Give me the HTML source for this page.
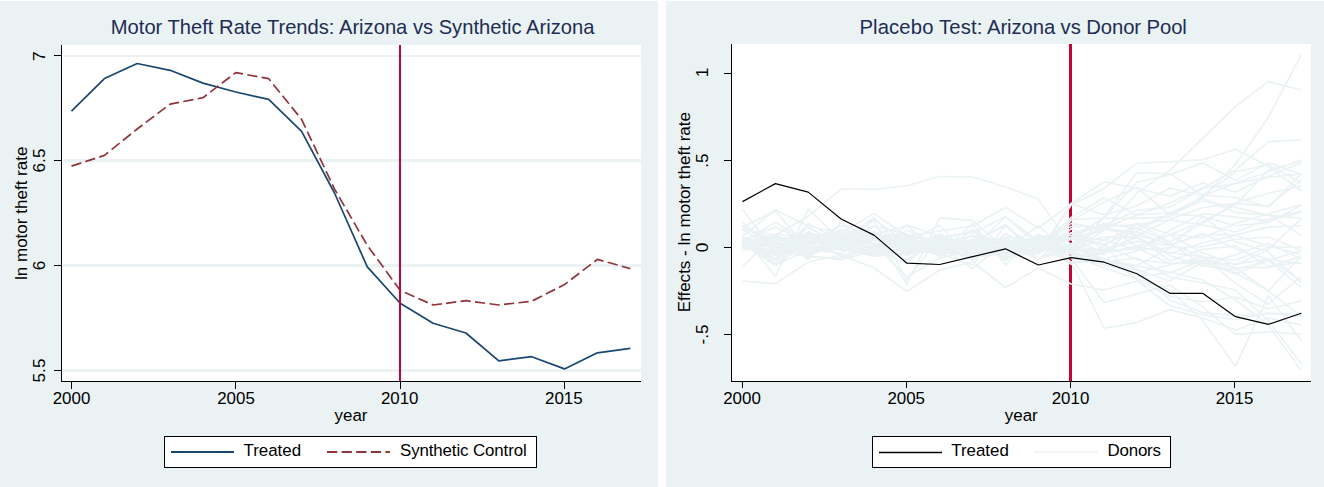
<!DOCTYPE html>
<html lang="en"><head><meta charset="utf-8"><title>Synthetic control: Arizona motor theft</title>
<style>
html,body{margin:0;padding:0;background:#fff;}
body{width:1324px;height:487px;overflow:hidden;}
svg{display:block;}
text{font-family:'Liberation Sans', sans-serif;fill:#000;}
.lab{font-size:16.9px;}
.ttl{font-size:20.2px;fill:#1e2d53;}
</style></head><body>
<svg width="1324" height="487" viewBox="0 0 1324 487">
<rect x="0" y="0" width="1324" height="487" fill="#fff"/>
<rect x="0" y="1" width="658" height="486" fill="#eaf2f3"/>
<rect x="666" y="1" width="658" height="486" fill="#eaf2f3"/>

<g id="left">
<rect x="62" y="45" width="579" height="336" fill="#fff"/>
<rect x="63" y="55" width="578" height="2" fill="#eaf2f3"/>
<rect x="63" y="159" width="578" height="3" fill="#eaf2f3"/>
<rect x="63" y="264" width="578" height="3" fill="#eaf2f3"/>
<rect x="63" y="369" width="578" height="3" fill="#eaf2f3"/>
<polyline fill="none" stroke="#1a476f" stroke-width="1.7" stroke-linejoin="round" points="71.5,111.1 104.4,78.6 137.2,63.5 170.1,70.3 203.0,83.1 235.8,92.0 268.7,99.4 301.6,131.4 334.5,193.0 367.3,266.9 400.2,303.2 433.1,323.3 465.9,333.0 498.8,360.9 531.7,356.7 564.5,368.9 597.4,352.8 630.3,348.4"/>
<polyline fill="none" stroke="#90353b" stroke-width="1.7" stroke-linejoin="round" stroke-dasharray="10.3 4.3" points="71.5,166.1 104.4,155.4 137.2,129.0 170.1,104.1 203.0,97.7 235.8,72.6 268.7,78.7 301.6,119.4 334.5,189.0 367.3,245.4 400.2,290.4 433.1,305.0 465.9,300.7 498.8,305.0 531.7,301.2 564.5,284.6 597.4,259.4 630.3,268.6"/>
<rect x="399" y="45" width="2" height="336" fill="#c10534"/>
<g fill="#000">
<rect x="61" y="45" width="1" height="337"/>
<rect x="61" y="381" width="580" height="1"/>
<rect x="54" y="55" width="7" height="1"/>
<rect x="54" y="160" width="7" height="1"/>
<rect x="54" y="265" width="7" height="1"/>
<rect x="54" y="370" width="7" height="1"/>
<rect x="71" y="382" width="1" height="7"/>
<rect x="235" y="382" width="1" height="7"/>
<rect x="400" y="382" width="1" height="7"/>
<rect x="564" y="382" width="1" height="7"/>
</g>
<text class="lab" x="71.5" y="404" text-anchor="middle">2000</text>
<text class="lab" x="236.0" y="404" text-anchor="middle">2005</text>
<text class="lab" x="399.7" y="404" text-anchor="middle">2010</text>
<text class="lab" x="563.8" y="404" text-anchor="middle">2015</text>
<text class="lab" style="font-size:17.2px" transform="translate(45.0,56.3) rotate(-90)" text-anchor="middle">7</text>
<text class="lab" style="font-size:17.2px" transform="translate(45.0,160.5) rotate(-90)" text-anchor="middle">6.5</text>
<text class="lab" style="font-size:17.2px" transform="translate(45.0,265.5) rotate(-90)" text-anchor="middle">6</text>
<text class="lab" style="font-size:17.2px" transform="translate(45.0,370.5) rotate(-90)" text-anchor="middle">5.5</text>
<text class="lab" style="font-size:17.05px" transform="translate(27.3,213.3) rotate(-90)" text-anchor="middle">ln motor theft rate</text>
<text class="lab" x="351.0" y="420.5" text-anchor="middle">year</text>
<text class="ttl" style="font-size:20.17px" x="352.6" y="33.9" text-anchor="middle">Motor Theft Rate Trends: Arizona vs Synthetic Arizona</text>
<rect x="164.5" y="436.5" width="372" height="31" fill="#fff" stroke="#000" stroke-width="1"/>
<line x1="171" y1="452" x2="234" y2="452" stroke="#1a476f" stroke-width="2"/>
<text class="lab" x="243.5" y="456">Treated</text>
<line x1="327" y1="452" x2="390" y2="452" stroke="#90353b" stroke-width="2" stroke-dasharray="10.3 4.3"/>
<text class="lab" style="letter-spacing:-0.12px" x="400" y="456">Synthetic Control</text>
</g>
<g id="right">
<rect x="732" y="44" width="579" height="337" fill="#fff"/>
<rect x="1069" y="44" width="3" height="337" fill="#c10534"/>
<g fill="none" stroke="#eaf2f3" stroke-width="1.6" stroke-linejoin="round">
<polyline points="742.5,229.4 775.4,250.3 808.2,256.6 841.1,240.1 874.0,235.6 906.9,243.2 939.7,225.3 972.6,260.6 1005.5,240.5 1038.3,240.0 1071.2,226.5 1104.1,226.2 1136.9,224.7 1169.8,219.5 1202.7,207.6 1235.5,203.4 1268.4,206.1 1301.3,179.9"/>
<polyline points="742.5,236.0 775.4,209.9 808.2,226.0 841.1,233.0 874.0,213.6 906.9,236.0 939.7,231.0 972.6,226.0 1005.5,207.3 1038.3,228.0 1071.2,203.6 1104.1,215.0 1136.9,206.0 1169.8,188.0 1202.7,196.0 1235.5,183.0 1268.4,172.0 1301.3,160.0"/>
<polyline points="742.5,244.1 775.4,247.8 808.2,242.4 841.1,245.2 874.0,219.1 906.9,243.5 939.7,244.4 972.6,242.9 1005.5,242.0 1038.3,247.9 1071.2,217.4 1104.1,197.8 1136.9,215.0 1169.8,212.8 1202.7,198.2 1235.5,212.5 1268.4,214.9 1301.3,235.2"/>
<polyline points="742.5,246.5 775.4,234.2 808.2,236.9 841.1,244.3 874.0,238.6 906.9,247.8 939.7,244.0 972.6,245.2 1005.5,258.0 1038.3,240.7 1071.2,262.0 1104.1,328.2 1136.9,322.6 1169.8,309.6 1202.7,318.0 1235.5,330.0 1268.4,318.0 1301.3,325.0"/>
<polyline points="742.5,245.9 775.4,251.7 808.2,238.2 841.1,243.5 874.0,236.1 906.9,245.8 939.7,254.5 972.6,239.2 1005.5,242.8 1038.3,240.9 1071.2,257.0 1104.1,264.7 1136.9,272.5 1169.8,264.9 1202.7,257.2 1235.5,268.0 1268.4,291.0 1301.3,316.0"/>
<polyline points="742.5,238.5 775.4,243.8 808.2,255.3 841.1,237.1 874.0,245.1 906.9,245.6 939.7,237.6 972.6,253.5 1005.5,245.2 1038.3,258.9 1071.2,243.6 1104.1,228.8 1136.9,234.8 1169.8,244.1 1202.7,256.7 1235.5,283.4 1268.4,304.4 1301.3,276.0"/>
<polyline points="742.5,242.4 775.4,237.0 808.2,240.6 841.1,249.2 874.0,226.2 906.9,234.3 939.7,244.1 972.6,240.3 1005.5,243.9 1038.3,248.2 1071.2,248.0 1104.1,259.0 1136.9,266.0 1169.8,272.0 1202.7,280.0 1235.5,300.0 1268.4,324.8 1301.3,370.6"/>
<polyline points="742.5,242.6 775.4,238.4 808.2,242.7 841.1,239.4 874.0,238.2 906.9,255.8 939.7,239.2 972.6,230.9 1005.5,256.4 1038.3,253.0 1071.2,237.9 1104.1,244.9 1136.9,259.9 1169.8,263.5 1202.7,263.2 1235.5,263.9 1268.4,259.3 1301.3,263.6"/>
<polyline points="742.5,227.2 775.4,210.8 808.2,249.2 841.1,253.5 874.0,232.5 906.9,284.0 939.7,217.6 972.6,220.6 1005.5,249.2 1038.3,225.9 1071.2,255.0 1104.1,268.0 1136.9,279.0 1169.8,290.0 1202.7,320.7 1235.5,366.4 1268.4,295.7 1301.3,341.0"/>
<polyline points="742.5,281.0 775.4,283.8 808.2,262.0 841.1,255.0 874.0,268.0 906.9,291.5 939.7,270.0 972.6,262.0 1005.5,287.5 1038.3,268.0 1071.2,284.0 1104.1,290.0 1136.9,281.0 1169.8,296.0 1202.7,302.0 1235.5,297.0 1268.4,309.0 1301.3,301.0"/>
<polyline points="742.5,244.1 775.4,234.5 808.2,256.5 841.1,258.6 874.0,246.9 906.9,253.2 939.7,244.4 972.6,241.3 1005.5,226.1 1038.3,250.0 1071.2,246.6 1104.1,250.5 1136.9,249.2 1169.8,234.8 1202.7,252.9 1235.5,265.0 1268.4,249.5 1301.3,218.6"/>
<polyline points="742.5,238.0 775.4,235.4 808.2,250.6 841.1,238.8 874.0,247.9 906.9,246.2 939.7,246.1 972.6,245.3 1005.5,257.5 1038.3,247.5 1071.2,252.0 1104.1,217.1 1136.9,172.7 1169.8,173.7 1202.7,195.2 1235.5,197.3 1268.4,207.2 1301.3,173.9"/>
<polyline points="742.5,248.9 775.4,235.0 808.2,259.3 841.1,222.2 874.0,244.4 906.9,276.8 939.7,257.9 972.6,250.6 1005.5,240.9 1038.3,238.2 1071.2,237.2 1104.1,223.3 1136.9,228.6 1169.8,242.0 1202.7,223.4 1235.5,202.9 1268.4,193.2 1301.3,186.3"/>
<polyline points="742.5,243.1 775.4,254.8 808.2,247.8 841.1,246.1 874.0,235.5 906.9,243.6 939.7,241.2 972.6,244.7 1005.5,243.2 1038.3,238.2 1071.2,240.0 1104.1,228.0 1136.9,215.0 1169.8,203.0 1202.7,188.0 1235.5,170.0 1268.4,141.7 1301.3,139.8"/>
<polyline points="742.5,247.9 775.4,249.9 808.2,238.1 841.1,250.3 874.0,246.3 906.9,247.5 939.7,242.2 972.6,243.9 1005.5,250.0 1038.3,241.9 1071.2,256.9 1104.1,253.6 1136.9,235.5 1169.8,219.9 1202.7,225.0 1235.5,231.9 1268.4,219.3 1301.3,210.7"/>
<polyline points="742.5,240.8 775.4,227.1 808.2,241.9 841.1,237.9 874.0,235.2 906.9,253.1 939.7,251.2 972.6,243.7 1005.5,224.1 1038.3,260.1 1071.2,228.6 1104.1,249.4 1136.9,237.4 1169.8,255.4 1202.7,265.8 1235.5,269.6 1268.4,260.3 1301.3,287.5"/>
<polyline points="742.5,238.1 775.4,259.2 808.2,231.8 841.1,248.2 874.0,238.4 906.9,249.1 939.7,253.2 972.6,223.6 1005.5,264.8 1038.3,234.2 1071.2,253.4 1104.1,262.2 1136.9,265.2 1169.8,248.4 1202.7,216.5 1235.5,225.8 1268.4,222.5 1301.3,205.4"/>
<polyline points="742.5,241.9 775.4,253.4 808.2,241.0 841.1,243.9 874.0,251.9 906.9,230.2 939.7,243.9 972.6,235.9 1005.5,240.6 1038.3,242.4 1071.2,238.8 1104.1,244.1 1136.9,230.9 1169.8,214.0 1202.7,216.1 1235.5,241.4 1268.4,252.1 1301.3,282.7"/>
<polyline points="742.5,246.2 775.4,255.5 808.2,247.3 841.1,243.1 874.0,255.2 906.9,225.0 939.7,236.5 972.6,233.0 1005.5,216.8 1038.3,240.9 1071.2,235.3 1104.1,240.3 1136.9,250.3 1169.8,247.8 1202.7,246.8 1235.5,239.2 1268.4,237.0 1301.3,250.4"/>
<polyline points="742.5,242.2 775.4,260.4 808.2,235.1 841.1,246.4 874.0,255.2 906.9,239.3 939.7,250.1 972.6,244.4 1005.5,255.2 1038.3,242.9 1071.2,248.6 1104.1,225.2 1136.9,210.4 1169.8,207.1 1202.7,188.6 1235.5,183.6 1268.4,177.1 1301.3,173.9"/>
<polyline points="742.5,266.4 775.4,235.8 808.2,256.6 841.1,238.5 874.0,253.5 906.9,236.3 939.7,255.1 972.6,247.6 1005.5,250.6 1038.3,249.1 1071.2,250.0 1104.1,240.0 1136.9,228.0 1169.8,214.0 1202.7,197.6 1235.5,164.2 1268.4,117.3 1301.3,54.7"/>
<polyline points="742.5,242.3 775.4,244.3 808.2,242.5 841.1,245.2 874.0,235.5 906.9,242.3 939.7,244.5 972.6,240.4 1005.5,238.5 1038.3,248.3 1071.2,233.1 1104.1,245.1 1136.9,280.5 1169.8,305.6 1202.7,314.8 1235.5,319.7 1268.4,312.9 1301.3,316.5"/>
<polyline points="742.5,235.3 775.4,276.4 808.2,209.2 841.1,240.6 874.0,217.5 906.9,254.5 939.7,248.3 972.6,248.7 1005.5,216.8 1038.3,245.0 1071.2,252.0 1104.1,230.0 1136.9,193.0 1169.8,170.4 1202.7,138.4 1235.5,106.4 1268.4,81.6 1301.3,90.0"/>
<polyline points="742.5,229.0 775.4,235.0 808.2,216.5 841.1,188.8 874.0,189.5 906.9,185.8 939.7,176.6 972.6,177.0 1005.5,187.0 1038.3,199.1 1071.2,246.0 1104.1,262.0 1136.9,270.0 1169.8,281.0 1202.7,262.0 1235.5,274.0 1268.4,260.0 1301.3,251.0"/>
<polyline points="742.5,225.5 775.4,247.4 808.2,243.9 841.1,240.2 874.0,220.9 906.9,280.0 939.7,237.2 972.6,247.8 1005.5,240.2 1038.3,253.7 1071.2,203.5 1104.1,181.8 1136.9,188.5 1169.8,196.0 1202.7,183.0 1235.5,192.0 1268.4,176.0 1301.3,163.0"/>
<polyline points="742.5,226.2 775.4,243.5 808.2,248.9 841.1,249.1 874.0,256.3 906.9,253.2 939.7,241.6 972.6,253.8 1005.5,245.8 1038.3,258.3 1071.2,250.7 1104.1,249.2 1136.9,241.4 1169.8,245.5 1202.7,233.3 1235.5,248.9 1268.4,259.6 1301.3,280.7"/>
<polyline points="742.5,239.1 775.4,263.6 808.2,236.8 841.1,232.1 874.0,245.2 906.9,238.9 939.7,248.9 972.6,258.7 1005.5,233.6 1038.3,250.1 1071.2,237.4 1104.1,217.8 1136.9,182.2 1169.8,174.7 1202.7,163.0 1235.5,180.4 1268.4,162.6 1301.3,174.2"/>
<polyline points="742.5,244.5 775.4,251.9 808.2,249.2 841.1,242.0 874.0,225.6 906.9,250.6 939.7,247.3 972.6,247.5 1005.5,252.9 1038.3,248.5 1071.2,244.7 1104.1,237.1 1136.9,237.1 1169.8,253.4 1202.7,242.7 1235.5,235.5 1268.4,246.1 1301.3,254.6"/>
<polyline points="742.5,251.1 775.4,241.7 808.2,256.0 841.1,259.6 874.0,251.0 906.9,252.1 939.7,245.5 972.6,268.9 1005.5,241.8 1038.3,244.9 1071.2,219.3 1104.1,218.2 1136.9,218.4 1169.8,216.9 1202.7,195.7 1235.5,171.8 1268.4,164.7 1301.3,182.9"/>
<polyline points="742.5,241.1 775.4,240.0 808.2,233.6 841.1,238.8 874.0,244.2 906.9,248.4 939.7,246.2 972.6,257.0 1005.5,253.5 1038.3,238.1 1071.2,251.0 1104.1,262.0 1136.9,258.0 1169.8,277.0 1202.7,283.0 1235.5,290.0 1268.4,320.7 1301.3,363.6"/>
<polyline points="742.5,241.2 775.4,258.8 808.2,223.6 841.1,241.3 874.0,240.2 906.9,246.1 939.7,254.3 972.6,242.9 1005.5,258.0 1038.3,239.5 1071.2,262.6 1104.1,246.0 1136.9,223.1 1169.8,241.9 1202.7,266.0 1235.5,254.4 1268.4,243.1 1301.3,259.1"/>
<polyline points="742.5,209.2 775.4,252.0 808.2,235.4 841.1,256.2 874.0,245.0 906.9,234.5 939.7,245.6 972.6,240.1 1005.5,243.4 1038.3,253.5 1071.2,205.0 1104.1,188.5 1136.9,163.2 1169.8,161.5 1202.7,159.7 1235.5,149.2 1268.4,166.3 1301.3,191.0"/>
<polyline points="742.5,242.0 775.4,252.8 808.2,227.5 841.1,244.5 874.0,234.7 906.9,225.4 939.7,253.7 972.6,265.1 1005.5,225.9 1038.3,253.3 1071.2,220.4 1104.1,202.1 1136.9,187.4 1169.8,214.8 1202.7,200.8 1235.5,207.4 1268.4,215.2 1301.3,218.2"/>
<polyline points="742.5,239.4 775.4,242.6 808.2,245.2 841.1,229.5 874.0,237.6 906.9,243.0 939.7,246.6 972.6,258.4 1005.5,236.6 1038.3,241.7 1071.2,252.6 1104.1,258.9 1136.9,268.5 1169.8,299.9 1202.7,312.6 1235.5,315.7 1268.4,313.7 1301.3,313.4"/>
<polyline points="742.5,241.8 775.4,265.3 808.2,241.7 841.1,225.5 874.0,236.8 906.9,260.3 939.7,237.7 972.6,252.9 1005.5,250.3 1038.3,246.5 1071.2,223.4 1104.1,228.7 1136.9,232.1 1169.8,245.1 1202.7,234.8 1235.5,234.7 1268.4,227.1 1301.3,225.7"/>
<polyline points="742.5,247.5 775.4,242.1 808.2,232.9 841.1,245.7 874.0,239.0 906.9,239.3 939.7,250.1 972.6,242.0 1005.5,250.2 1038.3,252.2 1071.2,233.0 1104.1,227.2 1136.9,236.0 1169.8,261.0 1202.7,249.2 1235.5,246.0 1268.4,266.3 1301.3,262.5"/>
<polyline points="742.5,240.4 775.4,243.2 808.2,247.9 841.1,231.6 874.0,236.2 906.9,240.5 939.7,246.4 972.6,247.3 1005.5,249.6 1038.3,243.9 1071.2,264.4 1104.1,251.8 1136.9,247.9 1169.8,263.7 1202.7,260.1 1235.5,272.7 1268.4,290.9 1301.3,255.7"/>
<polyline points="742.5,242.1 775.4,222.4 808.2,242.6 841.1,243.6 874.0,231.8 906.9,246.6 939.7,234.7 972.6,249.6 1005.5,246.9 1038.3,239.8 1071.2,233.3 1104.1,224.2 1136.9,246.6 1169.8,252.5 1202.7,257.0 1235.5,260.3 1268.4,247.0 1301.3,247.4"/>
<polyline points="742.5,222.7 775.4,247.5 808.2,257.2 841.1,235.5 874.0,243.6 906.9,240.4 939.7,256.3 972.6,229.0 1005.5,254.3 1038.3,236.6 1071.2,245.9 1104.1,259.0 1136.9,251.0 1169.8,230.4 1202.7,213.5 1235.5,217.1 1268.4,220.9 1301.3,212.3"/>
<polyline points="742.5,242.2 775.4,247.3 808.2,253.4 841.1,237.8 874.0,250.3 906.9,236.6 939.7,252.0 972.6,235.3 1005.5,260.5 1038.3,235.9 1071.2,262.9 1104.1,261.0 1136.9,276.7 1169.8,272.8 1202.7,260.4 1235.5,267.7 1268.4,267.6 1301.3,256.3"/>
<polyline points="742.5,245.1 775.4,246.6 808.2,245.1 841.1,234.0 874.0,249.6 906.9,263.7 939.7,233.5 972.6,256.5 1005.5,247.9 1038.3,244.9 1071.2,248.7 1104.1,254.1 1136.9,223.6 1169.8,234.3 1202.7,238.0 1235.5,223.2 1268.4,213.9 1301.3,204.4"/>
<polyline points="742.5,244.0 775.4,265.3 808.2,249.8 841.1,243.8 874.0,256.0 906.9,247.9 939.7,240.8 972.6,249.4 1005.5,247.5 1038.3,235.7 1071.2,238.3 1104.1,253.3 1136.9,246.0 1169.8,234.7 1202.7,221.6 1235.5,204.8 1268.4,170.3 1301.3,161.0"/>
<polyline points="742.5,246.9 775.4,236.7 808.2,252.4 841.1,248.6 874.0,236.0 906.9,234.2 939.7,252.9 972.6,245.8 1005.5,252.5 1038.3,238.6 1071.2,258.0 1104.1,302.7 1136.9,294.0 1169.8,285.0 1202.7,306.8 1235.5,334.5 1268.4,331.8 1301.3,334.0"/>
</g>
<polyline fill="none" stroke="#000" stroke-width="1.2" stroke-linejoin="round" points="742.5,201.6 775.4,183.6 808.2,192.1 841.1,219.0 874.0,235.1 906.9,263.2 939.7,264.5 972.6,256.7 1005.5,248.8 1038.3,265.0 1071.2,257.7 1104.1,262.2 1136.9,273.8 1169.8,293.3 1202.7,293.3 1235.5,316.7 1268.4,324.3 1301.3,313.3"/>
<g fill="#000">
<rect x="731" y="44" width="1" height="338"/>
<rect x="731" y="381" width="580" height="1"/>
<rect x="724" y="73" width="7" height="1"/>
<rect x="724" y="160" width="7" height="1"/>
<rect x="724" y="247" width="7" height="1"/>
<rect x="724" y="334" width="7" height="1"/>
<rect x="742" y="382" width="1" height="6"/>
<rect x="906" y="382" width="1" height="6"/>
<rect x="1070" y="382" width="1" height="6"/>
<rect x="1234" y="382" width="1" height="6"/>
</g>
<text class="lab" x="742.0" y="404" text-anchor="middle">2000</text>
<text class="lab" x="906.2" y="404" text-anchor="middle">2005</text>
<text class="lab" x="1070.5" y="404" text-anchor="middle">2010</text>
<text class="lab" x="1234.5" y="404" text-anchor="middle">2015</text>
<text class="lab" style="font-size:17.2px" transform="translate(707.9,72.5) rotate(-90)" text-anchor="middle">1</text>
<text class="lab" style="font-size:17.2px" transform="translate(707.9,160.6) rotate(-90)" text-anchor="middle">.5</text>
<text class="lab" style="font-size:17.2px" transform="translate(707.9,247.5) rotate(-90)" text-anchor="middle">0</text>
<text class="lab" style="font-size:17.2px" transform="translate(707.9,334.5) rotate(-90)" text-anchor="middle">-.5</text>
<text class="lab" style="font-size:17.05px" transform="translate(690.2,212.2) rotate(-90)" text-anchor="middle">Effects - ln motor theft rate</text>
<text class="lab" x="1021.3" y="420.5" text-anchor="middle">year</text>
<text class="ttl" style="font-size:20.27px" x="859.4" y="33.9"><tspan style="letter-spacing:0.14px">Placebo Test: </tspan><tspan dx="-1.3" style="letter-spacing:-0.09px">Arizona vs Donor Pool</tspan></text>
<rect x="872.5" y="436.5" width="298" height="31" fill="#fff" stroke="#000" stroke-width="1"/>
<line x1="879" y1="452.5" x2="942" y2="452.5" stroke="#000" stroke-width="1.3"/>
<text class="lab" x="951.2" y="456">Treated</text>
<line x1="1034" y1="452" x2="1098" y2="452" stroke="#eaf2f3" stroke-width="1.7"/>
<text class="lab" style="letter-spacing:-0.2px" x="1107.5" y="456">Donors</text>
</g>
</svg></body></html>
